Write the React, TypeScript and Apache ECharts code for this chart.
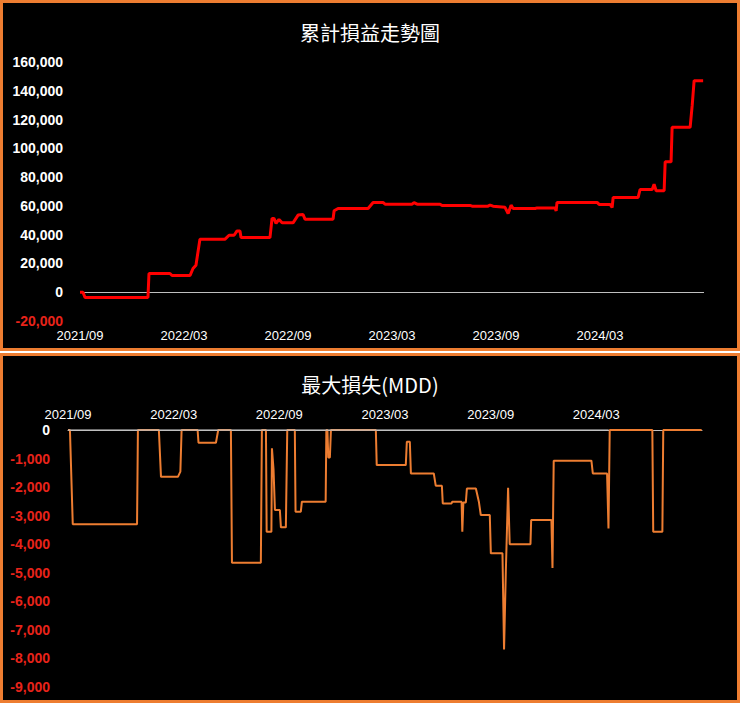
import { useEffect, useRef } from 'react';
import * as echarts from 'echarts';

// x = months since 2021/09
const tickLabels = ['2021/09', '2022/03', '2022/09', '2023/03', '2023/09', '2024/03', '2024/09'];

const cumMonths = [
  0, 0.17, 0.29, 3.92, 3.98, 5.19, 5.31, 6.35, 6.52, 6.69, 6.92, 8.37, 8.6, 8.89, 9.06, 9.23, 9.29,
  10.96, 11.08, 11.19, 11.31, 11.48, 11.66, 12.29, 12.58, 12.87, 12.98, 14.6, 14.66, 14.89, 16.62,
  16.91, 17.48, 17.6, 19.16, 19.27, 19.45, 20.77, 20.89, 22.5, 22.62, 23.54, 23.66, 23.83, 24.52,
  24.7, 24.87, 24.99, 26.26, 26.37, 27.41, 27.47, 27.52, 29.83, 29.95, 30.58, 30.7, 30.76, 32.2,
  32.31, 33.01, 33.12, 33.24, 33.7, 33.76, 34.1, 34.16, 35.2, 35.32, 35.43, 35.95,
];
const cumValues = [
  0, 0, -3700, -3700, 13000, 13000, 11600, 11600, 16500, 18800, 36900, 36900, 39600, 39600, 42600,
  42600, 38000, 38000, 51300, 51300, 47800, 50600, 48200, 48200, 53600, 54000, 50800, 50800, 56600,
  58200, 58200, 62400, 62400, 61200, 61200, 62300, 61200, 61200, 60300, 60300, 59800, 59800, 60600,
  59800, 59000, 54700, 60500, 58200, 58200, 58600, 58600, 56500, 62400, 62400, 61000, 61000, 58900,
  65900, 65900, 71400, 71400, 75000, 70500, 70500, 90600, 90600, 114600, 114600, 130000, 147000,
  147000,
];

const mddMonths = [
  0, 0.11, 0.27, 3.92, 3.97, 5.16, 5.28, 6.24, 6.38, 6.45, 7.36, 7.41, 8.4, 8.53, 9.25, 9.31, 10.95,
  11.01, 11.24, 11.28, 11.55, 11.58, 11.67, 11.75, 12.03, 12.09, 12.37, 12.45, 12.88, 12.92, 13.22,
  13.28, 14.63, 14.67, 14.73, 14.78, 14.87, 14.93, 17.48, 17.53, 19.18, 19.24, 19.41, 19.47, 20.77,
  20.88, 21.23, 21.28, 21.78, 21.82, 22.35, 22.39, 22.45, 22.59, 22.65, 23.16, 23.33, 23.44, 23.95,
  24.01, 24.67, 24.76, 24.86, 24.99, 25.08, 26.26, 26.3, 27.45, 27.51, 27.58, 29.72, 29.8, 30.61,
  30.69, 30.76, 33.18, 33.23, 33.75, 33.8, 35.98,
];
const mddValues = [
  0, 0, -3300, -3300, 0, 0, -1640, -1640, -1460, 0, 0, -445, -445, 0, 0, -4650, -4650, 0, 0, -3560,
  -3560, -640, -1380, -2800, -2800, -3410, -3410, 0, 0, -2860, -2860, -2510, -2510, 0, 0, -960, -960,
  0, 0, -1230, -1230, -410, -410, -1520, -1520, -1950, -1950, -2570, -2570, -2510, -2510, -3560,
  -2540, -2540, -2050, -2050, -2510, -2980, -2980, -4320, -4320, -7690, -4970, -2020, -4000, -4000,
  -3155, -3155, -4830, -1075, -1075, -1520, -1520, -3450, 0, 0, -3560, -3560, 0, 0,
];

// the grey zero line shows over the orange one up to here
const greyZeroEnd = 30.7;

const ORANGE = '#ED7D31';
const RED_TEXT = '#E8231A';
const GREY = '#BFBFBF';
const FONT = '"Liberation Sans", Arial, sans-serif';
const CJK = '"Noto Sans CJK TC", "Noto Sans", sans-serif';

const monthLabel = (v: number) => (v >= 36 ? '' : tickLabels[Math.round(v / 6)] ?? '');
const valueLabel = (v: number) =>
  v < 0 ? `{neg|${v.toLocaleString('en-US')}}` : `{pos|${v.toLocaleString('en-US')}}`;
const labelRich = {
  neg: { color: RED_TEXT, fontWeight: 'bold', fontSize: 14, fontFamily: FONT },
  pos: { color: '#FFFFFF', fontWeight: 'bold', fontSize: 14, fontFamily: FONT },
};

function useChart(option: any) {
  const ref = useRef<HTMLDivElement>(null);
  useEffect(() => {
    if (!ref.current) return;
    const chart = echarts.init(ref.current, null, { renderer: 'svg' });
    chart.setOption(option);
    return () => chart.dispose();
  }, []);
  return ref;
}

function CumChart() {
  const ref = useChart({
    animation: false,
    backgroundColor: '#000000',
    title: {
      text: '累計損益走勢圖',
      left: 'center',
      top: 14,
      textStyle: { color: '#FFFFFF', fontSize: 20, fontWeight: 'normal', fontFamily: CJK },
    },
    grid: { left: 77, right: 33, top: 59, bottom: 27 },
    xAxis: {
      type: 'value',
      min: 0,
      max: 36,
      interval: 6,
      axisLine: { show: false },
      axisTick: { show: false },
      splitLine: { show: false },
      axisLabel: { color: '#FFFFFF', fontSize: 13, fontFamily: FONT, margin: 8, formatter: monthLabel },
    },
    yAxis: {
      type: 'value',
      min: -20000,
      max: 160000,
      interval: 20000,
      axisLine: { show: false },
      axisTick: { show: false },
      splitLine: { show: false },
      axisLabel: { margin: 17, formatter: valueLabel, rich: labelRich },
    },
    series: [
      {
        type: 'line',
        data: cumMonths.map((m, i) => [m, cumValues[i]]),
        showSymbol: false,
        lineStyle: { color: '#FF0000', width: 3 },
        markLine: {
          silent: true,
          symbol: 'none',
          label: { show: false },
          lineStyle: { color: GREY, width: 1, type: 'solid' },
          data: [{ yAxis: 0 }],
          z: 1,
        },
      },
    ],
  });
  return <div ref={ref} style={{ width: 734, height: 345 }} />;
}

function MddChart() {
  const ref = useChart({
    animation: false,
    backgroundColor: '#000000',
    title: {
      text: '最大損失(MDD)',
      left: 'center',
      top: 13,
      textStyle: { color: '#FFFFFF', fontSize: 20, fontWeight: 'normal', fontFamily: CJK },
    },
    grid: { left: 65, right: 35, top: 74, bottom: 13 },
    xAxis: {
      type: 'value',
      position: 'top',
      min: 0,
      max: 36,
      interval: 6,
      axisLine: { show: true, onZero: false, lineStyle: { color: GREY, width: 1 } },
      axisTick: { show: false },
      splitLine: { show: false },
      axisLabel: { color: '#FFFFFF', fontSize: 13, fontFamily: FONT, margin: 9, formatter: monthLabel },
    },
    yAxis: {
      type: 'value',
      min: -9000,
      max: 0,
      interval: 1000,
      axisLine: { show: false },
      axisTick: { show: false },
      splitLine: { show: false },
      axisLabel: { margin: 18, formatter: valueLabel, rich: labelRich },
    },
    series: [
      {
        type: 'line',
        data: mddMonths.map((m, i) => [m, mddValues[i]]),
        showSymbol: false,
        lineStyle: { color: ORANGE, width: 2 },
        z: 2,
      },
      {
        type: 'line',
        data: [
          [0, 0],
          [greyZeroEnd, 0],
        ],
        showSymbol: false,
        silent: true,
        lineStyle: { color: GREY, width: 1.5 },
        z: 3,
      },
    ],
  });
  return <div ref={ref} style={{ width: 734, height: 344 }} />;
}

const box = (top: number, height: number): React.CSSProperties => ({
  position: 'absolute',
  left: 0,
  top,
  width: 740,
  height,
  boxSizing: 'border-box',
  border: `3px solid ${ORANGE}`,
  background: '#000000',
});

export default function App() {
  return (
    <div style={{ position: 'fixed', left: 0, top: 0, width: 740, height: 703, background: '#FFFFFF' }}>
      <div style={box(0, 351)}>
        <CumChart />
      </div>
      <div style={box(353, 350)}>
        <MddChart />
      </div>
    </div>
  );
}
